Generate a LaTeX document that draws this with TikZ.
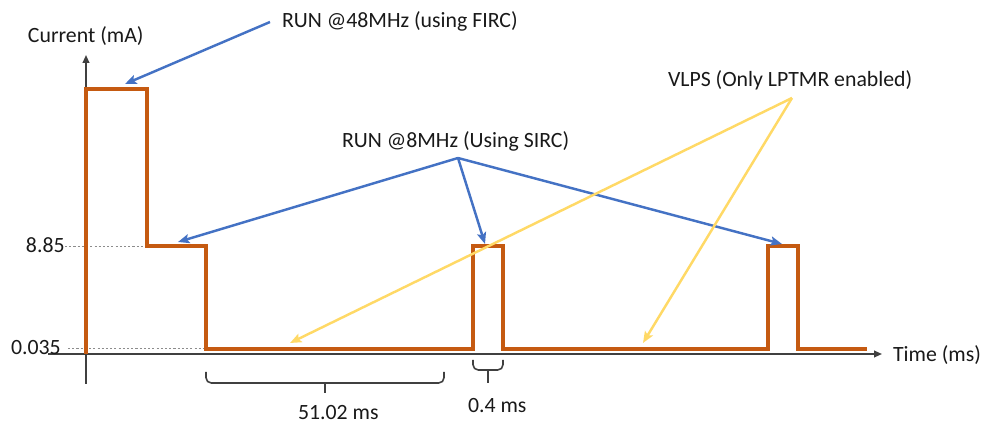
\documentclass[tikz,border=0pt]{standalone}
\usepackage{fontspec}
\setmainfont{Carlito}
\usetikzlibrary{arrows.meta}
\definecolor{wave}{HTML}{C55A11}
\definecolor{runblue}{HTML}{4472C4}
\definecolor{vlpsyellow}{HTML}{FFD966}
\definecolor{axisgray}{HTML}{404040}
\definecolor{guidegray}{HTML}{8C8C8C}
\begin{document}
\begin{tikzpicture}[x=0.02cm,y=-0.02cm,
  lbl/.style={anchor=base west,inner sep=0pt,outer sep=0pt,text=black!90,
    font=\fontsize{12.4}{14}\selectfont},
  axisline/.style={draw=axisgray,line width=0.9pt,-{Triangle[length=4.5pt,width=3.8pt]}},
  waveline/.style={draw=wave,line width=2.1pt},
  guide/.style={draw=guidegray,line width=0.45pt,dash pattern=on 1.2pt off 1.2pt},
  runarrow/.style={draw=runblue,line width=1.4pt,-{Stealth[length=6.5pt,width=5.2pt,inset=1.3pt]}},
  vlpsarrow/.style={draw=vlpsyellow,line width=1.4pt,-{Stealth[length=6.5pt,width=5.2pt,inset=1.3pt]}},
  bracket/.style={draw=axisgray,line width=0.9pt,rounded corners=3pt}]
\useasboundingbox (0,0) rectangle (981,422);

% axes
\coordinate (yfoot) at (86,384);
\coordinate (ytip) at (86,55);
\coordinate (xfoot) at (48,354);
\coordinate (xtip) at (882,354);
\draw[axisline] (yfoot) -- (ytip);
\draw[axisline] (xfoot) -- (xtip);

% level guides
\draw[guide] (65,246) -- (147,246);
\draw[guide] (68,348.5) -- (206,348.5);

% current waveform
\draw[waveline] (86,354) -- (86,89) -- (147,89) -- (147,246) -- (206,246)
  -- (206,349) -- (473,349) -- (473,246) -- (503,246) -- (503,349)
  -- (768,349) -- (768,246) -- (798,246) -- (798,349) -- (867,349);

% labels
\node[lbl] (ylabel) at (28,43) {Current (mA)};
\node[lbl] (xlabel) at (893,361) {Time (ms)};
\node[lbl] (lvlhigh) at (26,253) {8.85};
\node[lbl] (lvllow) at (11,355) {0.035};
\node[lbl] (run48) at (282,28) {RUN @48MHz (using FIRC)};
\node[lbl] (run8) at (342,148) {RUN @8MHz (Using SIRC)};
\node[lbl] (vlps) at (668,87) {VLPS (Only LPTMR enabled)};
\node[lbl] (sleepdur) at (298,419) {51.02 ms};
\node[lbl] (pulsedur) at (468,413) {0.4 ms};

% duration brackets
\draw[bracket] (206,372) -- (206,383) -- (444,383) -- (444,372);
\draw[axisgray,line width=0.9pt] (325,383) -- (325,393);
\draw[bracket] (473,360) -- (473,370) -- (503,370) -- (503,360);
\draw[axisgray,line width=0.9pt] (488,370) -- (488,383);

% callout anchors
\coordinate (from48) at (270,22);
\coordinate (from8) at (458,158);
\coordinate (fromvlps) at (792,98);
\coordinate (top48) at (125,84);
\coordinate (step8) at (178,242);
\coordinate (pulseA) at (485,244);
\coordinate (pulseB) at (782,244);
\coordinate (sleepA) at (290,343);
\coordinate (sleepB) at (643,343);

% callouts
\draw[runarrow] (from48) -- (top48);
\draw[runarrow] (from8) -- (step8);
\draw[runarrow] (from8) -- (pulseA);
\draw[runarrow] (from8) -- (pulseB);
\draw[vlpsarrow] (fromvlps) -- (sleepA);
\draw[vlpsarrow] (fromvlps) -- (sleepB);
\end{tikzpicture}
\end{document}
